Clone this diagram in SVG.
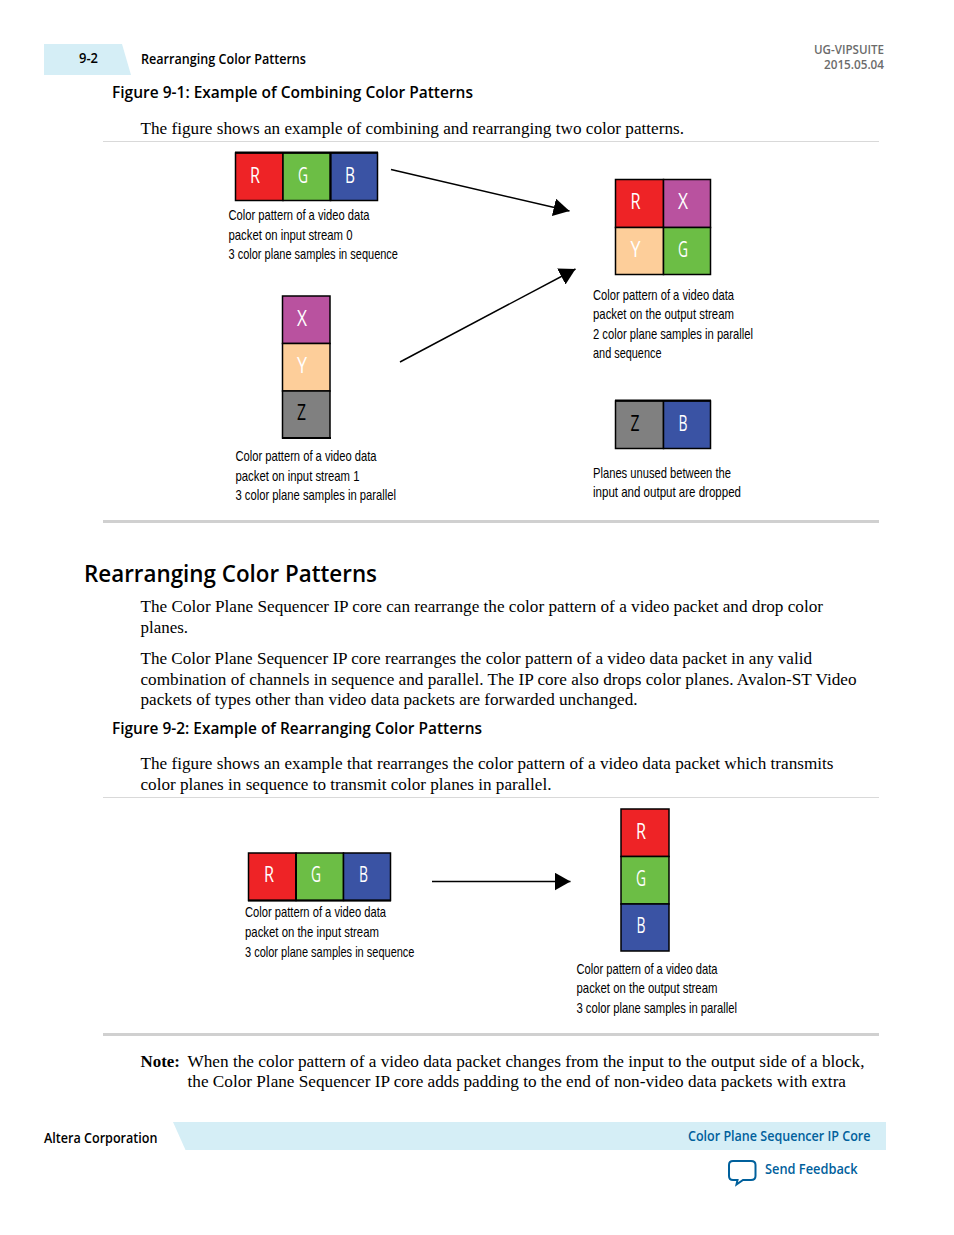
<svg xmlns="http://www.w3.org/2000/svg" width="954" height="1235" viewBox="0 0 954 1235">
<style>
text{font-family:"Open Sans","Noto Sans","Liberation Sans",sans-serif;fill:#000}
.b{font-weight:600;font-size:14px}
.f{font-weight:600;font-size:16.5px}
.h{font-weight:600;font-size:24px}
.s{font-family:"Liberation Serif",serif;font-size:17.5px}
.c{font-family:"Liberation Sans",sans-serif;font-size:15px}
.l{font-size:22px}
.w{fill:#fff}
.g{fill:#6b6b6b;font-weight:600;font-size:12px}
.u{fill:#00609c;font-weight:600;font-size:14px}
.k{stroke:#000;stroke-width:1.5}
.R{fill:#ee2326}.G{fill:#6cbe45}.B{fill:#3a53a4}.X{fill:#b9529f}.Y{fill:#fdce9a}.Z{fill:#808080}
.rule{stroke:#d9d9d9;stroke-width:1}
.rule2{stroke:#d0d0d0;stroke-width:3}
.con{stroke:#000;fill:none;stroke-width:1.500}
.t{stroke:#000;stroke-width:2}
</style>
<defs><marker id="ah" markerUnits="userSpaceOnUse" markerWidth="17" markerHeight="18" refX="16" refY="9" orient="auto"><path d="M0 0L16 9L0 18Z" fill="#000"/></marker></defs>
<g id="header">
<path d="M44 44H122L131 75H44Z" fill="#d5eef6"/>
<text class="b" x="79" y="63" textLength="19" lengthAdjust="spacingAndGlyphs">9-2</text>
<text class="b" x="141" y="64" textLength="165" lengthAdjust="spacingAndGlyphs">Rearranging Color Patterns</text>
<text class="g" x="814" y="54" textLength="70" lengthAdjust="spacingAndGlyphs">UG-VIPSUITE</text>
<text class="g" x="824" y="69" textLength="60" lengthAdjust="spacingAndGlyphs">2015.05.04</text>
</g>
<g id="fig1-text">
<text class="f" x="112" y="98" textLength="361" lengthAdjust="spacingAndGlyphs">Figure 9-1: Example of Combining Color Patterns</text>
<text class="s" x="140.500" y="134" textLength="543.500" lengthAdjust="spacingAndGlyphs">The figure shows an example of combining and rearranging two color patterns.</text>
<line class="rule" x1="103" y1="141.500" x2="879" y2="141.500"/>
<line class="rule2" x1="103" y1="521.500" x2="879" y2="521.500"/>
</g>
<g id="input0">
<rect class="R k" x="235.500" y="153" width="47.500" height="47.500"/><rect class="G k" x="283" y="153" width="47.500" height="47.500"/><rect class="B k" x="330.500" y="153" width="47" height="47.500"/>
<path class="t" d="M235 152.500H378M330.500 153V200"/>
<text class="l w" x="250" y="183" textLength="10" lengthAdjust="spacingAndGlyphs">R</text><text class="l w" x="298" y="183" textLength="10" lengthAdjust="spacingAndGlyphs">G</text><text class="l w" x="345" y="183" textLength="10" lengthAdjust="spacingAndGlyphs">B</text>
<text class="c" x="228.500" y="220" textLength="141" lengthAdjust="spacingAndGlyphs">Color pattern of a video data</text>
<text class="c" x="228.500" y="240" textLength="124" lengthAdjust="spacingAndGlyphs">packet on input stream 0</text>
<text class="c" x="228.500" y="259" textLength="169.500" lengthAdjust="spacingAndGlyphs">3 color plane samples in sequence</text>
</g>
<g id="input1">
<rect class="X k" x="282.500" y="296" width="47.500" height="47.500"/><rect class="Y k" x="282.500" y="343.500" width="47.500" height="47.500"/><rect class="Z k" x="282.500" y="391" width="47.500" height="47"/>
<path class="t" d="M282 438H331"/>
<text class="l w" x="297" y="326" textLength="10" lengthAdjust="spacingAndGlyphs">X</text><text class="l w" x="297" y="373" textLength="10" lengthAdjust="spacingAndGlyphs">Y</text><text class="l" x="297" y="420" textLength="9" lengthAdjust="spacingAndGlyphs">Z</text>
<text class="c" x="235.500" y="461" textLength="141" lengthAdjust="spacingAndGlyphs">Color pattern of a video data</text>
<text class="c" x="235.500" y="481" textLength="124" lengthAdjust="spacingAndGlyphs">packet on input stream 1</text>
<text class="c" x="235.500" y="500" textLength="160.500" lengthAdjust="spacingAndGlyphs">3 color plane samples in parallel</text>
</g>
<g id="output">
<rect class="R k" x="615.500" y="179.500" width="48" height="48"/><rect class="X k" x="663.500" y="179.500" width="47" height="48"/><rect class="Y k" x="615.500" y="227.500" width="48" height="47"/><rect class="G k" x="663.500" y="227.500" width="47" height="47"/>
<text class="l w" x="630.500" y="209" textLength="10" lengthAdjust="spacingAndGlyphs">R</text><text class="l w" x="678" y="209" textLength="10" lengthAdjust="spacingAndGlyphs">X</text><text class="l w" x="630.500" y="257" textLength="10" lengthAdjust="spacingAndGlyphs">Y</text><text class="l w" x="678" y="257" textLength="10" lengthAdjust="spacingAndGlyphs">G</text>
<text class="c" x="593" y="300" textLength="141" lengthAdjust="spacingAndGlyphs">Color pattern of a video data</text>
<text class="c" x="593" y="319" textLength="141" lengthAdjust="spacingAndGlyphs">packet on the output stream</text>
<text class="c" x="593" y="339" textLength="160" lengthAdjust="spacingAndGlyphs">2 color plane samples in parallel</text>
<text class="c" x="593" y="358" textLength="68.500" lengthAdjust="spacingAndGlyphs">and sequence</text>
</g>
<g id="dropped">
<rect class="Z k" x="615.500" y="401" width="48" height="47.500"/><rect class="B k" x="663.500" y="401" width="47" height="47.500"/>
<path class="t" d="M615 400.500H711"/>
<text class="l" x="630.500" y="431" textLength="9" lengthAdjust="spacingAndGlyphs">Z</text><text class="l w" x="678.500" y="431" textLength="9" lengthAdjust="spacingAndGlyphs">B</text>
<text class="c" x="593" y="478" textLength="138" lengthAdjust="spacingAndGlyphs">Planes unused between the</text>
<text class="c" x="593" y="497" textLength="148" lengthAdjust="spacingAndGlyphs">input and output are dropped</text>
</g>
<g id="connectors">
<line class="con" x1="391" y1="169.500" x2="569.500" y2="211" marker-end="url(#ah)"/>
<line class="con" x1="400" y1="362" x2="575.500" y2="269" marker-end="url(#ah)"/>
<line class="con" x1="432" y1="881.500" x2="570.500" y2="881.500" marker-end="url(#ah)"/>
</g>
<g id="section">
<text class="h" x="84" y="582" textLength="293" lengthAdjust="spacingAndGlyphs">Rearranging Color Patterns</text>
<text class="s" x="140.500" y="612" textLength="682.500" lengthAdjust="spacingAndGlyphs">The Color Plane Sequencer IP core can rearrange the color pattern of a video packet and drop color</text>
<text class="s" x="140.500" y="633" textLength="47.500" lengthAdjust="spacingAndGlyphs">planes.</text>
<text class="s" x="140.500" y="664" textLength="671.500" lengthAdjust="spacingAndGlyphs">The Color Plane Sequencer IP core rearranges the color pattern of a video data packet in any valid</text>
<text class="s" x="140.500" y="685" textLength="716" lengthAdjust="spacingAndGlyphs">combination of channels in sequence and parallel. The IP core also drops color planes. Avalon-ST Video</text>
<text class="s" x="140.500" y="705" textLength="497" lengthAdjust="spacingAndGlyphs">packets of types other than video data packets are forwarded unchanged.</text>
<text class="f" x="112" y="734" textLength="370" lengthAdjust="spacingAndGlyphs">Figure 9-2: Example of Rearranging Color Patterns</text>
<text class="s" x="140.500" y="769" textLength="693" lengthAdjust="spacingAndGlyphs">The figure shows an example that rearranges the color pattern of a video data packet which transmits</text>
<text class="s" x="140.500" y="790" textLength="411" lengthAdjust="spacingAndGlyphs">color planes in sequence to transmit color planes in parallel.</text>
<line class="rule" x1="103" y1="797.500" x2="879" y2="797.500"/>
<line class="rule2" x1="103" y1="1034.500" x2="879" y2="1034.500"/>
</g>
<g id="fig2-input">
<rect class="R k" x="248.500" y="853" width="47.500" height="47.500"/><rect class="G k" x="296" y="853" width="47.500" height="47.500"/><rect class="B k" x="343.500" y="853" width="47" height="47.500"/>
<path class="t" d="M296 853V900M248 900.500H391"/>
<text class="l w" x="264" y="882" textLength="10" lengthAdjust="spacingAndGlyphs">R</text><text class="l w" x="311" y="882" textLength="10" lengthAdjust="spacingAndGlyphs">G</text><text class="l w" x="359" y="882" textLength="9" lengthAdjust="spacingAndGlyphs">B</text>
<text class="c" x="245" y="917" textLength="141" lengthAdjust="spacingAndGlyphs">Color pattern of a video data</text>
<text class="c" x="245" y="937" textLength="134" lengthAdjust="spacingAndGlyphs">packet on the input stream</text>
<text class="c" x="245" y="957" textLength="169.500" lengthAdjust="spacingAndGlyphs">3 color plane samples in sequence</text>
</g>
<g id="fig2-output">
<rect class="R k" x="621" y="809" width="48" height="47.500"/><rect class="G k" x="621" y="856.500" width="48" height="47.500"/><rect class="B k" x="621" y="904" width="48" height="47"/>
<text class="l w" x="636" y="839" textLength="10" lengthAdjust="spacingAndGlyphs">R</text><text class="l w" x="636" y="886" textLength="10" lengthAdjust="spacingAndGlyphs">G</text><text class="l w" x="636.500" y="933" textLength="9" lengthAdjust="spacingAndGlyphs">B</text>
<text class="c" x="576.500" y="974" textLength="141" lengthAdjust="spacingAndGlyphs">Color pattern of a video data</text>
<text class="c" x="576.500" y="993" textLength="141" lengthAdjust="spacingAndGlyphs">packet on the output stream</text>
<text class="c" x="576.500" y="1013" textLength="160.500" lengthAdjust="spacingAndGlyphs">3 color plane samples in parallel</text>
</g>
<g id="note">
<text class="s" x="140.500" y="1067" font-weight="700" textLength="39.500" lengthAdjust="spacingAndGlyphs">Note:</text>
<text class="s" x="187.500" y="1067" textLength="677" lengthAdjust="spacingAndGlyphs">When the color pattern of a video data packet changes from the input to the output side of a block,</text>
<text class="s" x="187.500" y="1087" textLength="658.500" lengthAdjust="spacingAndGlyphs">the Color Plane Sequencer IP core adds padding to the end of non-video data packets with extra</text>
</g>
<g id="footer">
<text class="b" x="44" y="1143" textLength="113.500" lengthAdjust="spacingAndGlyphs">Altera Corporation</text>
<path d="M173 1122H886V1150H185.500Z" fill="#d5eef6"/>
<text class="u" x="688" y="1141" textLength="182.500" lengthAdjust="spacingAndGlyphs">Color Plane Sequencer IP Core</text>
<path d="M733 1161H751Q755.500 1161 755.500 1165V1176Q755.500 1180 751 1180H743L736.500 1184.500L737.500 1180H733Q729 1180 729 1176V1165Q729 1161 733 1161Z" fill="#fff" stroke="#00609c" stroke-width="2"/>
<text class="u" x="765" y="1174" textLength="92.500" lengthAdjust="spacingAndGlyphs">Send Feedback</text>
</g>
</svg>
